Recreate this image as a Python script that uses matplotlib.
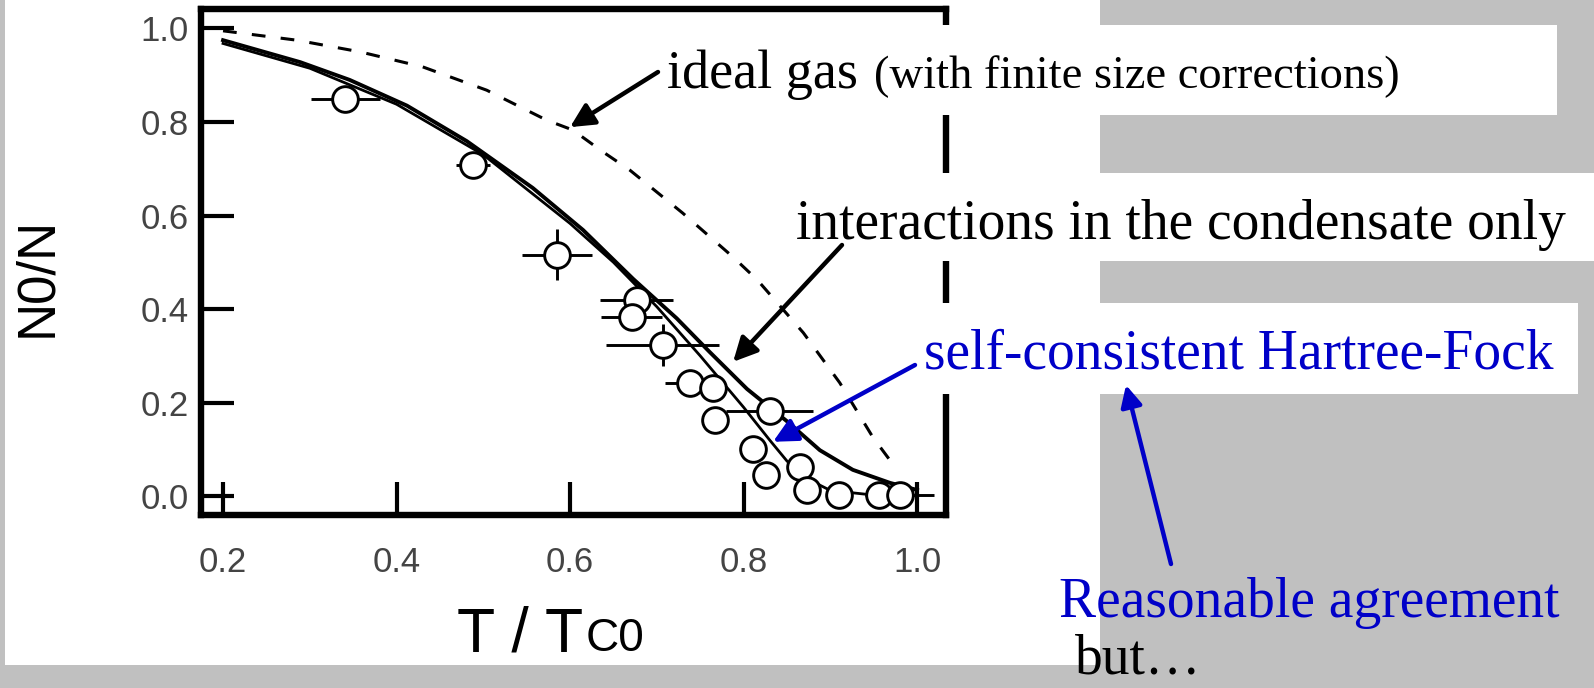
import matplotlib
matplotlib.use('Agg')
import matplotlib.pyplot as plt
from matplotlib.patches import Rectangle
from matplotlib.text import Annotation

# ---------------- data ----------------
exp_T = [0.341, 0.488, 0.585, 0.677, 0.671, 0.707, 0.738, 0.765, 0.767, 0.830,
         0.811, 0.826, 0.865, 0.873, 0.910, 0.956, 0.980]
exp_N = [0.849, 0.708, 0.516, 0.419, 0.383, 0.323, 0.242, 0.231, 0.163, 0.182,
         0.100, 0.045, 0.062, 0.013, 0.002, 0.002, 0.002]
exp_Terr = [0.040, 0.020, 0.040, 0.042, 0.035, 0.065, 0.028, 0.0, 0.0, 0.050,
            0.0, 0.0, 0.0, 0.0, 0.0, 0.0, 0.040]
exp_Nerr = [0.0, 0.0, 0.055, 0.0, 0.0, 0.045, 0.0, 0.0, 0.0, 0.0,
            0.0, 0.0, 0.0, 0.0, 0.0, 0.0, 0.0]

ideal_T = [0.200, 0.285, 0.358, 0.430, 0.504, 0.573, 0.603, 0.638, 0.669, 0.730,
           0.788, 0.816, 0.869, 0.911, 0.949, 0.977]
ideal_N = [0.995, 0.975, 0.950, 0.918, 0.868, 0.804, 0.783, 0.736, 0.697, 0.605,
           0.511, 0.462, 0.349, 0.242, 0.126, 0.056]

cond_T = [0.200, 0.289, 0.346, 0.412, 0.481, 0.557, 0.615, 0.673, 0.723, 0.761,
          0.804, 0.850, 0.888, 0.926, 0.969, 1.000]
cond_N = [0.975, 0.928, 0.890, 0.835, 0.759, 0.659, 0.569, 0.464, 0.380, 0.308,
          0.229, 0.160, 0.098, 0.056, 0.028, 0.013]

hf_T = [0.200, 0.300, 0.400, 0.500, 0.600, 0.650, 0.700, 0.750, 0.800, 0.830,
        0.850, 0.870, 0.900, 0.950, 0.990]
hf_N = [0.968, 0.915, 0.838, 0.730, 0.583, 0.500, 0.405, 0.300, 0.190, 0.120,
        0.075, 0.040, 0.012, 0.002, 0.000]

x_ticks = [0.2, 0.4, 0.6, 0.8, 1.0]
x_ticklabels = ['0.2', '0.4', '0.6', '0.8', '1.0']
y_ticks = [0.0, 0.2, 0.4, 0.6, 0.8, 1.0]
y_ticklabels = ['0.0', '0.2', '0.4', '0.6', '0.8', '1.0']

# ---------------- layout helpers ----------------
W, H = 1594, 688
def fx(px):
    return px / W
def fy(py):  # top-origin pixel -> figure fraction
    return 1 - py / H

GRAY = '#c0c0c0'
BLUE = '#0000c8'
SERIF = ['Liberation Serif', 'DejaVu Serif']
SANS = ['Liberation Sans Narrow', 'Liberation Sans', 'DejaVu Sans']

fig = plt.figure(figsize=(W / 100, H / 100), dpi=100)
fig.patch.set_facecolor(GRAY)

# white panel holding the graph
fig.add_artist(Rectangle((fx(5), fy(665)), fx(1095), 665 / H, transform=fig.transFigure,
                         facecolor='white', edgecolor='none', zorder=-5))

ax = fig.add_axes([fx(201), fy(515), fx(745), 506 / H])
ax.set_zorder(0)
ax.set_facecolor('white')
ax.set_xlim(0.1746, 1.0334)
ax.set_ylim(-0.0406, 1.0417)

ax.plot(ideal_T, ideal_N, color='black', lw=2.2, linestyle=(0, (4.5, 5.0)), zorder=2)
ax.plot(cond_T, cond_N, color='black', lw=2.8, zorder=2)
ax.plot(hf_T, hf_N, color='black', lw=2.0, zorder=2)
ax.errorbar(exp_T, exp_N, xerr=exp_Terr, yerr=exp_Nerr, fmt='o', ms=18.5, mfc='white',
            mec='black', mew=2.1, ecolor='black', elinewidth=2.1, capsize=0, zorder=3)

for s in ax.spines.values():
    s.set_linewidth(4.6)
ax.set_xticks(x_ticks)
ax.set_xticklabels(x_ticklabels, fontfamily=SANS, fontsize=25, color='#444444')
ax.set_yticks(y_ticks)
ax.set_yticklabels(y_ticklabels, fontfamily=SANS, fontsize=25, color='#444444')
ax.tick_params(axis='both', direction='in', length=24, width=3.0, color='black')
ax.tick_params(axis='x', pad=22)
ax.tick_params(axis='y', pad=9)

# axis labels
fig.text(fx(37), fy(277), 'N0/N', rotation=90, ha='center', va='center',
         fontfamily=SANS, fontsize=38, color='black')
t1 = fig.text(fx(457), fy(651), 'T / T', ha='left', va='baseline',
              fontfamily=SANS, fontsize=45, color='black')
fig.canvas.draw()
bb = t1.get_window_extent()
fig.text(bb.x1 / W + fx(3), fy(651), 'C0', ha='left', va='baseline',
         fontfamily=SANS, fontsize=33, color='black')

# white annotation boxes
for (x0, y0, x1, y1) in [(647, 25, 1557, 115), (778, 173, 1594, 261), (907, 303, 1578, 394)]:
    fig.add_artist(Rectangle((fx(x0), fy(y1)), fx(x1 - x0), (y1 - y0) / H,
                             transform=fig.transFigure, facecolor='white',
                             edgecolor='none', zorder=2))

fig.text(fx(667), fy(88), 'ideal gas', ha='left', va='baseline', fontfamily=SERIF,
         fontsize=39, color='black', zorder=3)
fig.text(fx(874), fy(88), '(with finite size corrections)', ha='left', va='baseline',
         fontfamily=SERIF, fontsize=33.5, color='black', zorder=3)
fig.text(fx(796), fy(239), 'interactions in the condensate only', ha='left', va='baseline',
         fontfamily=SERIF, fontsize=40, color='black', zorder=3)
fig.text(fx(924), fy(369), 'self-consistent Hartree-Fock', ha='left', va='baseline',
         fontfamily=SERIF, fontsize=40, color=BLUE, zorder=3)
fig.text(fx(1059), fy(617), 'Reasonable agreement', ha='left', va='baseline',
         fontfamily=SERIF, fontsize=40, color=BLUE, zorder=3)
fig.text(fx(1075), fy(674), 'but\u2026', ha='left', va='baseline',
         fontfamily=SERIF, fontsize=40, color='black', zorder=3)

# arrows
def arrow(tail_px, tip, tip_coords, color, lw=3.2, scale=36):
    a = Annotation('', xy=tip, xycoords=tip_coords,
                   xytext=(fx(tail_px[0]), fy(tail_px[1])), textcoords=fig.transFigure,
                   arrowprops=dict(arrowstyle='-|>', color=color, lw=lw,
                                   mutation_scale=scale, shrinkA=0, shrinkB=0))
    a.set_zorder(4)
    fig.add_artist(a)

arrow((658, 72), (0.600, 0.789), ax.transData, 'black')
arrow((842, 245), (0.788, 0.287), ax.transData, 'black')
arrow((915, 365), (0.834, 0.116), ax.transData, BLUE)
arrow((1171, 564), (fx(1126), fy(385)), fig.transFigure, BLUE, lw=3.2, scale=32)

fig.savefig('out.png', dpi=100, facecolor=GRAY)
